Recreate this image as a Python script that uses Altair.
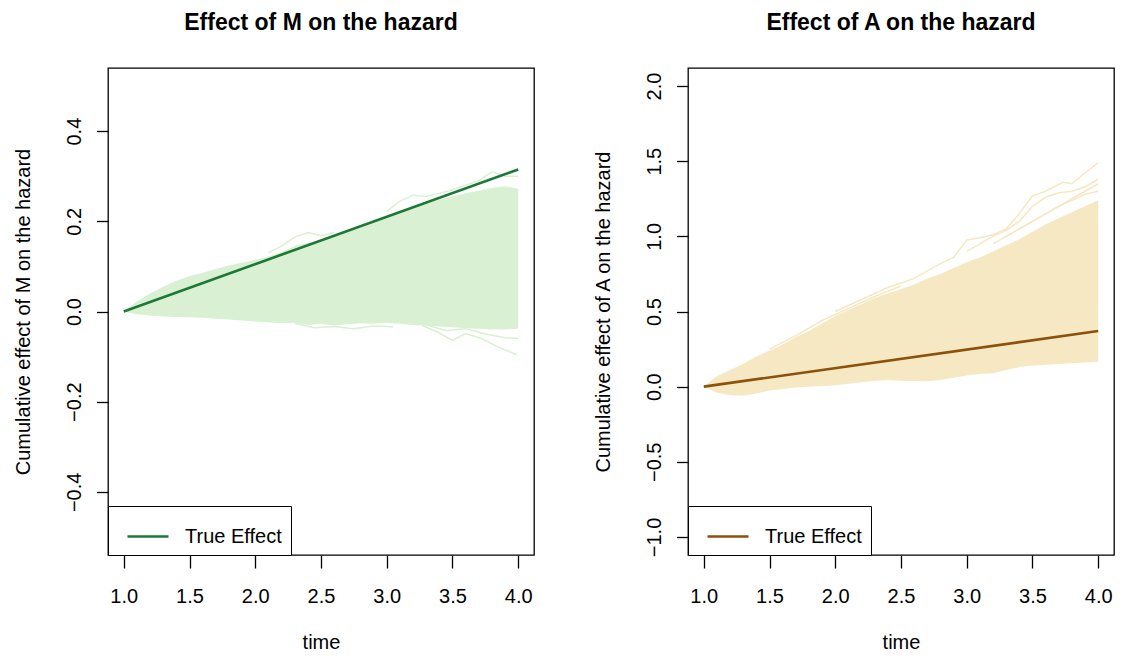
import altair as alt
import pandas as pd

FONT = "Liberation Sans"

# ---------------- data ----------------
TIME = [1.0, 1.1, 1.2, 1.3, 1.4, 1.5, 1.6, 1.7, 1.8, 1.9, 2.0,
        2.1, 2.2, 2.3, 2.4, 2.5, 2.6, 2.7, 2.8, 2.9, 3.0,
        3.1, 3.2, 3.3, 3.4, 3.5, 3.6, 3.7, 3.8, 3.9, 4.0]

# Effect of M: bulk envelope of the simulated estimates
M_HIGH = [0.0, 0.022, 0.040, 0.055, 0.068, 0.078, 0.086, 0.094, 0.102, 0.108, 0.115,
          0.122, 0.132, 0.145, 0.152, 0.158, 0.168, 0.178, 0.186, 0.198, 0.210,
          0.222, 0.232, 0.240, 0.248, 0.255, 0.262, 0.268, 0.274, 0.278, 0.272]
M_LOW = [0.0, -0.006, -0.009, -0.011, -0.012, -0.013, -0.014, -0.016, -0.018, -0.020, -0.022,
         -0.024, -0.026, -0.025, -0.030, -0.027, -0.031, -0.028, -0.026, -0.027, -0.025,
         -0.027, -0.030, -0.031, -0.033, -0.035, -0.037, -0.038, -0.040, -0.040, -0.038]
# stray estimate paths outside the bulk
M_STRAY_T = [[2.1, 2.2, 2.3, 2.4, 2.5, 2.6],
             [3.0, 3.1, 3.2, 3.3, 3.4, 3.5, 3.6, 3.7, 3.8, 3.9, 4.0],
             [3.27, 3.39, 3.5, 3.6, 3.72, 3.85, 3.99],
             [3.3, 3.45, 3.6, 3.75, 3.9, 4.0],
             [2.3, 2.45, 2.6, 2.75, 2.9, 3.05]]
M_STRAY_V = [[0.13, 0.145, 0.165, 0.175, 0.168, 0.175],
             [0.222, 0.245, 0.258, 0.255, 0.262, 0.27, 0.28, 0.29, 0.31, 0.30, 0.30],
             [-0.031, -0.046, -0.064, -0.049, -0.06, -0.079, -0.096],
             [-0.03, -0.042, -0.038, -0.05, -0.058, -0.06],
             [-0.026, -0.036, -0.033, -0.038, -0.032, -0.034]]

# Effect of A
A_HIGH = [0.0, 0.07, 0.11, 0.15, 0.20, 0.24, 0.28, 0.33, 0.37, 0.42, 0.47,
          0.51, 0.55, 0.59, 0.62, 0.65, 0.68, 0.72, 0.75, 0.79, 0.83,
          0.86, 0.90, 0.94, 0.98, 1.03, 1.08, 1.12, 1.16, 1.20, 1.24]
A_LOW = [0.0, -0.04, -0.058, -0.06, -0.045, -0.025, -0.015, -0.005, 0.0, 0.005, 0.01,
         0.02, 0.03, 0.04, 0.042, 0.04, 0.038, 0.036, 0.045, 0.06, 0.075,
         0.085, 0.09, 0.11, 0.13, 0.14, 0.145, 0.15, 0.155, 0.16, 0.165]
A_STRAY_T = [[2.0, 2.2, 2.4, 2.6, 2.78, 2.9, 3.0, 3.1, 3.2, 3.3, 3.4, 3.5, 3.6, 3.73, 3.8, 3.91, 4.0],
             [3.0, 3.1, 3.2, 3.3, 3.4, 3.5, 3.6, 3.7, 3.8, 3.9, 4.0],
             [3.2, 3.4, 3.6, 3.8, 4.0],
             [1.5, 1.7, 1.9, 2.1, 2.3, 2.5],
             [3.3, 3.5, 3.7, 3.9, 4.0]]
A_STRAY_V = [[0.50, 0.58, 0.66, 0.72, 0.81, 0.86, 0.975, 0.99, 1.01, 1.05, 1.15, 1.27, 1.30, 1.36, 1.35, 1.43, 1.49],
             [0.90, 0.95, 1.00, 1.04, 1.10, 1.20, 1.26, 1.29, 1.30, 1.33, 1.38],
             [0.95, 1.05, 1.15, 1.25, 1.35],
             [0.25, 0.34, 0.44, 0.52, 0.60, 0.67],
             [1.0, 1.1, 1.2, 1.28, 1.30]]

TRUE_T = [1.0, 4.0]
M_TRUE = [0.0, 0.315]
A_TRUE = [0.0, 0.37]

X_TICKS = [1.0, 1.5, 2.0, 2.5, 3.0, 3.5, 4.0]
M_Y_TICKS = [-0.4, -0.2, 0.0, 0.2, 0.4]
A_Y_TICKS = [-1.0, -0.5, 0.0, 0.5, 1.0, 1.5, 2.0]

PANEL_W = 426
PANEL_H = 487


def panel(title, ytitle, low, high, stray_t, stray_v, true_vals,
          line_col, fill_col, ydom, yticks):
    band = pd.DataFrame({"time": TIME, "low": low, "high": high})
    rows = []
    for i, (ts, vs) in enumerate(zip(stray_t, stray_v)):
        for t, v in zip(ts, vs):
            rows.append({"path": i, "time": t, "value": v})
    stray = pd.DataFrame(rows)
    true = pd.DataFrame({"time": TRUE_T, "value": true_vals,
                         "series": ["True Effect"] * len(TRUE_T)})

    x = alt.X("time:Q", scale=alt.Scale(domain=[0.88, 4.12], nice=False, zero=False),
              axis=alt.Axis(values=X_TICKS, format=".1f", title="time"))
    yscale = alt.Scale(domain=ydom, nice=False, zero=False)
    yaxis = alt.Axis(values=yticks, format=".1f", title=ytitle)

    area = alt.Chart(band).mark_area(color=fill_col, opacity=1).encode(
        x=x, y=alt.Y("low:Q", scale=yscale, axis=yaxis), y2="high:Q")
    lines = alt.Chart(stray).mark_line(color=fill_col, strokeWidth=1.5).encode(
        x=x, y=alt.Y("value:Q", scale=yscale, axis=yaxis), detail="path:N")
    tline = alt.Chart(true).mark_line(strokeWidth=2.6).encode(
        x=x, y=alt.Y("value:Q", scale=yscale, axis=yaxis),
        color=alt.Color("series:N",
                        scale=alt.Scale(domain=["True Effect"], range=[line_col]),
                        legend=alt.Legend(title=None)))
    return alt.layer(area, lines, tline).properties(
        width=PANEL_W, height=PANEL_H, title=title)


left = panel("Effect of M on the hazard", "Cumulative effect of M on the hazard",
             M_LOW, M_HIGH, M_STRAY_T, M_STRAY_V, M_TRUE,
             "#1B7837", "#D9F0D3", [-0.54, 0.54], M_Y_TICKS)
right = panel("Effect of A on the hazard", "Cumulative effect of A on the hazard",
              A_LOW, A_HIGH, A_STRAY_T, A_STRAY_V, A_TRUE,
              "#8C510A", "#F6E8C3", [-1.12, 2.12], A_Y_TICKS)

chart = alt.hconcat(left, right, spacing=57).resolve_scale(
    color="independent", y="independent"
).properties(
    padding={"left": 4, "top": 3, "right": 0, "bottom": 0}
).configure_view(
    stroke="black", strokeWidth=1.3
).configure_axis(
    labelFont=FONT, titleFont=FONT, labelFontSize=20, titleFontSize=20,
    titleFontWeight="normal", labelColor="black", titleColor="black",
    tickColor="black", tickWidth=1.3, grid=False, domain=False,
    labelFlush=False, labelOverlap=False, labelBound=False
).configure_axisX(
    tickSize=13, labelPadding=18, titlePadding=26
).configure_axisY(
    tickSize=11.5, labelAngle=270, labelAlign="center", labelBaseline="alphabetic",
    labelPadding=16.5, titlePadding=31
).configure_title(
    font=FONT, fontSize=23, fontWeight="bold", color="black", anchor="middle", offset=33
).configure_legend(
    orient="bottom-left", offset=0, padding=8.5, strokeColor="black", fillColor="white",
    labelFont=FONT, labelFontSize=20, labelColor="black", symbolSize=1681,
    symbolStrokeWidth=2.6, labelOffset=15, symbolType="stroke", symbolOffset=9.5
)

chart.save("out.html", embed_options={"renderer": "svg", "actions": False})
